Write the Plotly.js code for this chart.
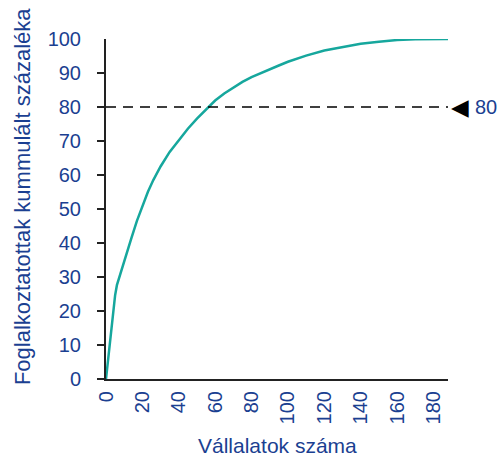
<!DOCTYPE html>
<html>
<head>
<meta charset="utf-8">
<script src="https://cdn.plot.ly/plotly-3.0.1.min.js"></script>
<style>html,body{margin:0;padding:0;background:#fff;}#chart{width:501px;height:459px;}</style>
</head>
<body>
<div id="chart"></div>
<script>
// Data
const firms = [0, 1, 2, 3, 4, 5, 6, 8, 10, 12, 14, 17, 20, 23, 26, 30, 35, 40, 45, 50, 55, 60, 65, 70, 75, 80, 85, 90, 95, 100, 110, 120, 130, 140, 150, 160, 170, 180, 188];
const cumPct = [0, 5, 10.5, 15.8, 20.6, 24.6, 27.6, 31.2, 34.6, 38, 41.5, 46.5, 51, 55, 58.5, 62.5, 66.8, 70.3, 73.6, 76.6, 79.4, 81.9, 84.0, 85.8, 87.4, 88.8, 90.0, 91.1, 92.2, 93.3, 95.1, 96.6, 97.7, 98.6, 99.2, 99.7, 99.9, 100, 100];
const threshold = 80;
const thresholdLabel = '80';
const xTicks = [0, 20, 40, 60, 80, 100, 120, 140, 160, 180];
const yLabelTicks = [0, 10, 20, 30, 40, 50, 60, 70, 80, 90, 100];
const yMarkTicks = [0, 10, 20, 30, 40, 50, 60, 70, 80, 90];
const xTitle = 'Vállalatok száma';
const yTitle = 'Foglalkoztatottak kummulált százaléka';

const blue = '#1b3f91';
const font = 'Liberation Sans, Arial, sans-serif';

const traces = [
  {
    x: firms, y: cumPct, type: 'scatter', mode: 'lines',
    line: {color: '#16a79d', width: 2.5, shape: 'linear'},
    hoverinfo: 'skip', showlegend: false
  },
  {
    x: [], y: [], yaxis: 'y2', type: 'scatter', mode: 'lines',
    showlegend: false, hoverinfo: 'skip'
  }
];

const layout = {
  width: 501, height: 459,
  margin: {l: 106, r: 53, t: 39, b: 80},
  paper_bgcolor: '#fff', plot_bgcolor: '#fff',
  font: {family: font, color: blue},
  showlegend: false,
  xaxis: {
    range: [0, 188], showgrid: false, zeroline: false,
    showline: true, linecolor: '#222', linewidth: 2,
    ticks: '', tickvals: xTicks, ticktext: xTicks.map(String), tickangle: -90,
    tickfont: {family: font, size: 20, color: blue},
    ticklabelstandoff: 2, fixedrange: true
  },
  yaxis: {
    range: [0, 100], showgrid: false, zeroline: false,
    showline: true, linecolor: '#222', linewidth: 2,
    ticks: '', tickvals: yLabelTicks, ticktext: yLabelTicks.map(String),
    tickfont: {family: font, size: 20, color: blue},
    ticklabelstandoff: 19, fixedrange: true
  },
  yaxis2: {
    range: [0, 100], overlaying: 'y', side: 'left', showgrid: false, zeroline: false,
    showline: false, ticks: 'outside', ticklen: 8, tickwidth: 2, tickcolor: '#222',
    tickvals: yMarkTicks, showticklabels: false, fixedrange: true
  },
  shapes: [
    {type: 'line', xref: 'paper', x0: 0, x1: 1, yref: 'y', y0: threshold, y1: threshold,
     line: {color: '#000', width: 1.5, dash: '10px,7px'}}
  ],
  annotations: [
    {text: '\u25C0', xref: 'paper', yref: 'y', x: 1.034, y: threshold,
     showarrow: false, xanchor: 'center', yanchor: 'middle',
     font: {family: 'DejaVu Sans', size: 23, color: '#000'}},
    {text: thresholdLabel, xref: 'paper', yref: 'y', x: 1.074, y: threshold,
     showarrow: false, xanchor: 'left', yanchor: 'middle',
     font: {family: font, size: 20, color: blue}},
    {text: yTitle, xref: 'paper', yref: 'paper', x: -0.2456, y: 0.535, textangle: -90,
     showarrow: false, xanchor: 'center', yanchor: 'middle',
     font: {family: font, size: 22, color: blue}},
    {text: xTitle, xref: 'paper', yref: 'paper', x: 0.5, y: -0.197,
     showarrow: false, xanchor: 'center', yanchor: 'middle',
     font: {family: font, size: 21, color: blue}}
  ]
};

Plotly.newPlot('chart', traces, layout, {displayModeBar: false, staticPlot: true});
</script>
</body>
</html>
